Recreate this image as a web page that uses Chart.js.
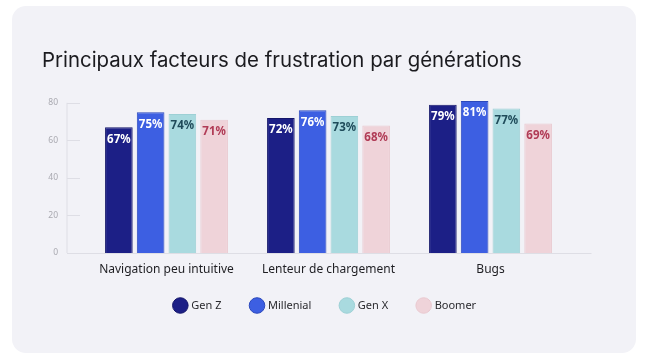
<!DOCTYPE html>
<html>
<head>
<meta charset="utf-8">
<script src="https://cdn.jsdelivr.net/npm/chart.js@4"></script>
<style>
  body { margin: 0; background: #ffffff; }
  .card { position: absolute; left: 12px; top: 6px; width: 624px; height: 347px; background: #f2f2f7; border-radius: 14px; }
  .wrap { position: absolute; left: 0; top: 0; width: 647px; height: 361px; }
</style>
</head>
<body>
<div class="card"></div>
<div class="wrap"><canvas id="chart"></canvas></div>
<script>
const categories = ["Navigation peu intuitive", "Lenteur de chargement", "Bugs"];
const genZ = [67, 72, 79];
const millenial = [75, 76, 81];
const genX = [74, 73, 77];
const boomer = [71, 68, 69];
const yTicks = [0, 20, 40, 60, 80];

const ctx = document.getElementById("chart").getContext("2d");

// lignes d'axe courtes, comme sur l'original
const axisLines = {
  id: "axisLines",
  beforeDatasetsDraw(chart) {
    const { ctx, chartArea } = chart;
    const y = chart.scales.y;
    const x0 = chartArea.left - 18.5;
    ctx.save();
    ctx.strokeStyle = "#dedee5";
    ctx.lineWidth = 1;
    ctx.beginPath();
    ctx.moveTo(x0, y.getPixelForValue(80));
    ctx.lineTo(x0, y.getPixelForValue(0));
    yTicks.forEach(v => {
      if (v === 0) return;
      const py = Math.round(y.getPixelForValue(v)) + 0.5;
      ctx.moveTo(x0, py);
      ctx.lineTo(x0 + 13, py);
    });
    const by = Math.round(y.getPixelForValue(0)) + 0.5;
    ctx.moveTo(x0, by);
    ctx.lineTo(chartArea.right + 20, by);
    ctx.stroke();
    ctx.restore();
  }
};

// pourcentages dans les barres
const valueLabels = {
  id: "valueLabels",
  afterDatasetsDraw(chart) {
    const { ctx } = chart;
    ctx.save();
    ctx.font = "bold 11.5px 'Noto Sans'";
    ctx.textAlign = "center";
    ctx.textBaseline = "middle";
    chart.data.datasets.forEach((ds, i) => {
      chart.getDatasetMeta(i).data.forEach((bar, j) => {
        ctx.fillStyle = ds.labelColor;
        ctx.fillText(ds.data[j] + "%", bar.x, bar.y + 12);
      });
    });
    ctx.restore();
  }
};

new Chart(ctx, {
  type: "bar",
  data: {
    labels: categories,
    datasets: [
      { label: "Gen Z", data: genZ, backgroundColor: "#1c1f86", borderColor: "#14166a", labelColor: "#ffffff" },
      { label: "Millenial", data: millenial, backgroundColor: "#3d5fe2", borderColor: "#2b48bb", labelColor: "#ffffff" },
      { label: "Gen X", data: genX, backgroundColor: "#a9dadf", borderColor: "#9dd0d5", labelColor: "#1f4b5a" },
      { label: "Boomer", data: boomer, backgroundColor: "#efd3d9", borderColor: "#e9c9d0", labelColor: "#b03b56" }
    ]
  },
  options: {
    responsive: true,
    maintainAspectRatio: false,
    animation: false,
    datasets: { bar: { borderWidth: 1, categoryPercentage: 0.784, barPercentage: 0.87 } },
    layout: { padding: { left: 42, right: 38, top: 0, bottom: 46 } },
    plugins: {
      title: {
        display: true,
        text: "Principaux facteurs de frustration par générations",
        align: "start",
        color: "#1b1b1f",
        font: { family: "Inter", size: 20.4, weight: "normal" },
        padding: { top: 49, bottom: 20 }
      },
      legend: {
        position: "bottom",
        maxHeight: 45,
        labels: {
          usePointStyle: true,
          pointStyle: "circle",
          boxWidth: 11,
          padding: 30,
          color: "#2a2a2e",
          font: { family: "Noto Sans", size: 11 }
        }
      },
      tooltip: { enabled: false }
    },
    scales: {
      x: {
        afterFit: s => { s.height = 17; },
        grid: { display: false, drawTicks: false },
        border: { display: false },
        // mirror : le texte n'est pas coupé par la petite boîte de l'axe
        ticks: { mirror: true, color: "#1e1e22", padding: -24, font: { family: "Noto Sans", size: 12 } }
      },
      y: {
        min: 0,
        max: 85,
        afterBuildTicks: s => { s.ticks = yTicks.map(v => ({ value: v })); },
        afterFit: s => { s.width = 43.5; },
        grid: { display: false, drawTicks: false },
        border: { display: false },
        ticks: { color: "#a9a9b0", padding: 27.5, font: { family: "Noto Sans", size: 8.5 } }
      },
      // axe vide à droite, juste pour garder la zone du graphique à sa place
      yRight: {
        position: "right",
        afterFit: s => { s.width = 37.5; },
        grid: { display: false, drawTicks: false },
        border: { display: false },
        ticks: { display: false }
      }
    }
  },
  plugins: [axisLines, valueLabels]
});
</script>
</body>
</html>
